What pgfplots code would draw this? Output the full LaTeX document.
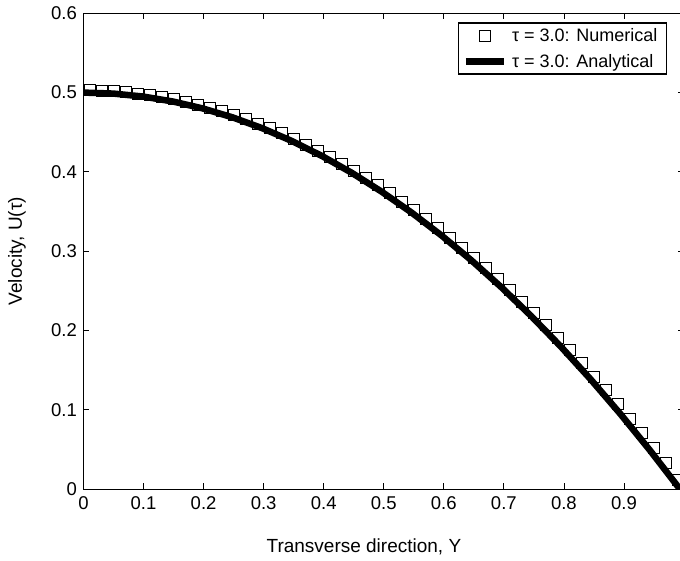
\documentclass[border=0pt]{standalone}
\usepackage{pgfplots}
\pgfplotsset{compat=1.18}
\usepackage{fontspec}
\setmainfont{Liberation Sans}
\usetikzlibrary{calc}
\begin{document}
\begin{tikzpicture}
\begin{axis}[
  name=ax,
  scale only axis,
  width=600.5pt, height=475.7pt,
  xmin=0, xmax=1, ymin=0, ymax=0.6,
  xtick={0,0.1,0.2,0.3,0.4,0.5,0.6,0.7,0.8,0.9},
  ytick={0,0.1,0.2,0.3,0.4,0.5,0.6},
  tick align=inside,
  tick pos=both,
  major tick length=6pt,
  axis line style={line width=0.9pt},
  every tick/.style={line width=0.8pt, black},
  /pgf/number format/assume math mode=true,
  /pgf/number format/fixed,
  ticklabel style={font=\fontsize{18.5}{21}\selectfont},
  yticklabel style={inner sep=0pt, anchor=east, xshift=-6.5pt},
  xticklabel style={inner sep=0pt, anchor=north, yshift=-7pt},
  xlabel={Transverse direction, Y},
  ylabel={Velocity, U(τ)},
  label style={font=\fontsize{19}{22}\selectfont},
  xlabel style={at={(axis description cs:0.467,-0.1219)}, anchor=center},
  ylabel style={at={(axis description cs:-0.1108,0.5)}, anchor=center},
  legend style={at={(rel axis cs:1,1)}, anchor=north east, xshift=-17pt, yshift=-9pt,
    draw=black, line width=1.3pt, font=\fontsize{18}{21}\selectfont,
    inner xsep=4pt, inner ysep=3.5pt, row sep=7pt,
    nodes={inner xsep=5pt}},
  legend cell align=left,
  legend image code/.code={\draw[mark repeat=2,mark phase=2,#1] plot coordinates {(0pt,0pt) (19pt,0pt) (38pt,0pt)};},
]
\addplot[only marks, mark=square, mark size=5.5pt, mark options={line width=0.8pt, draw=black, fill=none}] coordinates {
(0.01,0.50295) (0.03,0.50255) (0.05,0.50175) (0.07,0.50055) (0.09,0.49895)
(0.11,0.49695) (0.13,0.49455) (0.15,0.49175) (0.17,0.48855) (0.19,0.48495)
(0.21,0.48095) (0.23,0.47655) (0.25,0.47175) (0.27,0.46655) (0.29,0.46095)
(0.31,0.45495) (0.33,0.44855) (0.35,0.44175) (0.37,0.43455) (0.39,0.42695)
(0.41,0.41895) (0.43,0.41055) (0.45,0.40175) (0.47,0.39255) (0.49,0.38295)
(0.51,0.37295) (0.53,0.36255) (0.55,0.35175) (0.57,0.34055) (0.59,0.32895)
(0.61,0.31695) (0.63,0.30455) (0.65,0.29175) (0.67,0.27855) (0.69,0.26495)
(0.71,0.25095) (0.73,0.23655) (0.75,0.22175) (0.77,0.20655) (0.79,0.19095)
(0.81,0.17495) (0.83,0.15855) (0.85,0.14175) (0.87,0.12455) (0.89,0.10695)
(0.91,0.08895) (0.93,0.07055) (0.95,0.05175) (0.97,0.03255) (0.99,0.01195)
};
\addlegendentry{τ = 3.0: Numerical}
\addplot[black, line width=6.5pt, sharp plot] coordinates {
(0,0.5) (0.04965,0.49875) (0.0993,0.495) (0.14895,0.48875) (0.1986,0.48) (0.24825,0.46875)
(0.2979,0.455) (0.34755,0.43875) (0.3972,0.42) (0.44685,0.39875) (0.4965,0.375) (0.54615,0.34875)
(0.5958,0.32) (0.64545,0.28875) (0.6951,0.255) (0.74475,0.21875) (0.7944,0.18) (0.84405,0.13875)
(0.8937,0.095) (0.94335,0.04875) (0.993,0) (1.0,-0.0071)
};
\addlegendentry{τ = 3.0: Analytical}
\end{axis}
\pgfresetboundingbox
\path[use as bounding box] ($(ax.south west)+(-83.5pt,-71pt)$) rectangle ($(ax.south west)+(596.5pt,489pt)$);
\end{tikzpicture}
\end{document}
